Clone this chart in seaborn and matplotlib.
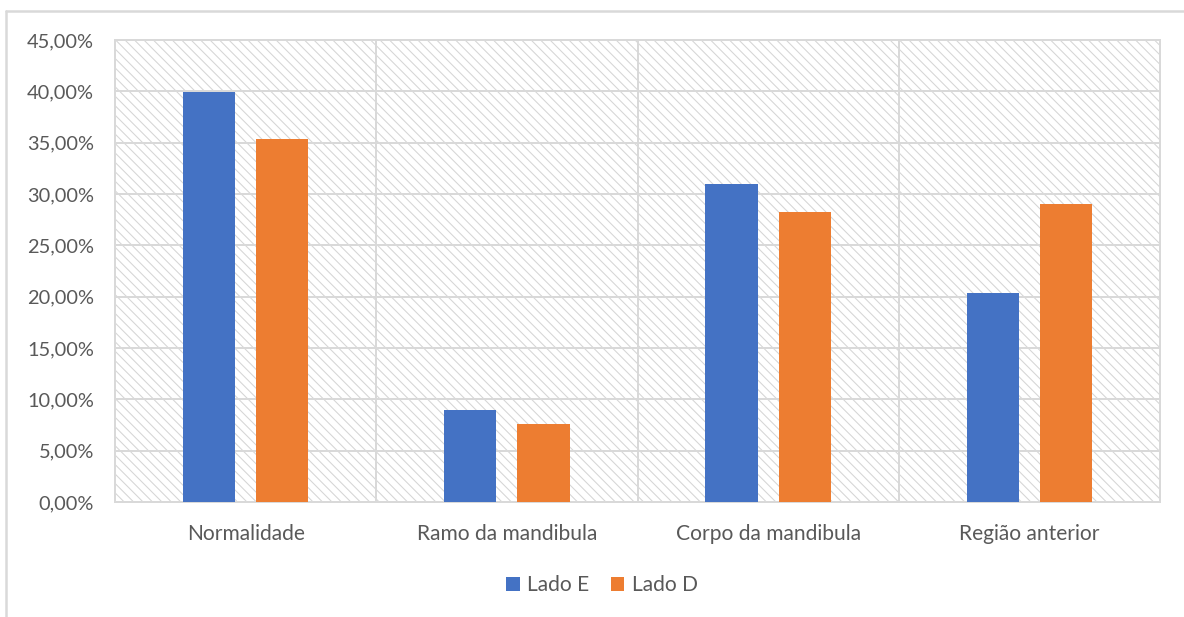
import matplotlib
matplotlib.use("Agg")
import matplotlib.pyplot as plt
from matplotlib.patches import Rectangle
from matplotlib.lines import Line2D
from matplotlib.ticker import FuncFormatter, MultipleLocator
import seaborn as sns
import pandas as pd

# Data (percentages)
categories = ["Normalidade", "Ramo da mandibula", "Corpo da mandibula", "Região anterior"]
series_names = ["Lado E", "Lado D"]
lado_e = [39.9, 9.0, 31.0, 20.4]
lado_d = [35.4, 7.6, 28.2, 29.0]
colors = ["#4472C4", "#ED7D31"]

DPI = 85
W, H = 1184, 617
GRID = "#d9d9d9"
TEXT = "#595959"

def px(v):
    return v * 72 / DPI

sns.set_theme(style="white")
plt.rcParams["font.family"] = ["Lato", "DejaVu Sans"]
plt.rcParams["hatch.linewidth"] = 0.9
plt.rcParams["hatch.color"] = "#d6d6d6"

df = pd.DataFrame({
    "categoria": categories * 2,
    "lado": [series_names[0]] * 4 + [series_names[1]] * 4,
    "valor": lado_e + lado_d,
})

fig = plt.figure(figsize=(W / DPI, H / DPI), dpi=DPI)
ax = fig.add_axes([115 / W, 1 - 502 / H, (1160 - 115) / W, (502 - 40) / H])

# hatched plot-area background
bg = Rectangle((0, 0), 1, 1, transform=ax.transAxes, facecolor="white",
               edgecolor="#d6d6d6", hatch="\\\\\\", linewidth=0, zorder=0.1)
ax.add_patch(bg)

sns.barplot(data=df, x="categoria", y="valor", hue="lado", order=categories,
            hue_order=series_names, palette=colors, width=0.56, gap=0.2857,
            linewidth=0, saturation=1, ax=ax, zorder=3, legend=True)

ax.set_ylim(0, 45)
ax.set_xlim(-0.5, len(categories) - 0.5)
ax.yaxis.set_major_locator(MultipleLocator(5))
ax.yaxis.set_major_formatter(FuncFormatter(lambda v, p: f"{v:.2f}".replace(".", ",") + "%"))
ax.set_axisbelow(True)
ax.yaxis.grid(True, color=GRID, linewidth=px(2), zorder=0.5)
for xb in [0.5, 1.5, 2.5]:
    ax.axvline(xb, color=GRID, linewidth=px(2), zorder=0.5)
for s in ax.spines.values():
    s.set_visible(True)
    s.set_color(GRID)
    s.set_linewidth(px(2))

ax.set_xlabel("")
ax.set_ylabel("")
ax.tick_params(axis="y", length=0, colors=TEXT, labelsize=px(20), pad=px(21))
ax.tick_params(axis="x", length=0, colors=TEXT, labelsize=px(21), pad=px(22))

handles, labels = ax.get_legend_handles_labels()
ax.get_legend().remove()
fig.legend(handles, labels, loc="center", bbox_to_anchor=(602 / W, 1 - 585 / H),
           ncol=2, frameon=False, handlelength=0.65, handleheight=0.65,
           handletextpad=0.35, columnspacing=1.0, labelcolor=TEXT,
           prop={"size": px(21)})

# outer chart frame
fig.add_artist(Line2D([5.5 / W, 1], [1 - 10.5 / H, 1 - 10.5 / H], color=GRID,
                      linewidth=px(2.5), transform=fig.transFigure))
fig.add_artist(Line2D([5.5 / W, 5.5 / W], [0, 1 - 10.5 / H], color=GRID,
                      linewidth=px(2.5), transform=fig.transFigure))

fig.savefig("out.png", dpi=DPI, facecolor="white")
